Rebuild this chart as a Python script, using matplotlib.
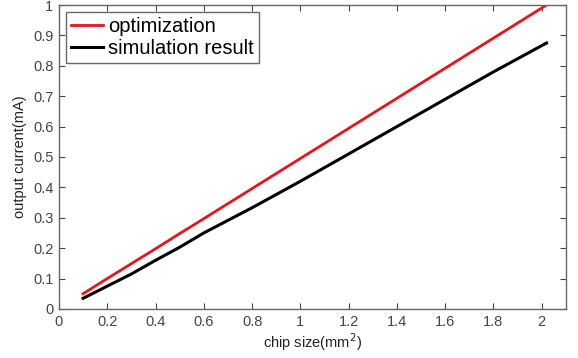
import matplotlib
matplotlib.use("Agg")
import matplotlib.pyplot as plt

plt.rcParams['font.family'] = ['Liberation Sans', 'DejaVu Sans']

chip_size = [0.1, 0.2, 0.3, 0.4, 0.5, 0.6, 0.8, 1.0, 1.2, 1.4, 1.6, 1.8, 2.02]
optimization = [0.05, 0.1, 0.149, 0.198, 0.248, 0.297, 0.396, 0.495, 0.594, 0.693, 0.792, 0.891, 1.0]
simulation = [0.035, 0.075, 0.115, 0.16, 0.203, 0.25, 0.333, 0.42, 0.51, 0.6, 0.69, 0.78, 0.875]

x_ticks = [0, 0.2, 0.4, 0.6, 0.8, 1, 1.2, 1.4, 1.6, 1.8, 2]
x_labels = ['0', '0.2', '0.4', '0.6', '0.8', '1', '1.2', '1.4', '1.6', '1.8', '2']
y_ticks = [0, 0.1, 0.2, 0.3, 0.4, 0.5, 0.6, 0.7, 0.8, 0.9, 1]
y_labels = ['0', '0.1', '0.2', '0.3', '0.4', '0.5', '0.6', '0.7', '0.8', '0.9', '1']

fig = plt.figure(figsize=(5.78, 3.58), dpi=100)
ax = fig.add_axes([0.102, 0.137, 0.877, 0.849])

ax.plot(chip_size, optimization, color='#e8141c', lw=2, label='optimization')
ax.plot(chip_size, simulation, color='black', lw=2.2, label='simulation result')

ax.set_xlim(0, 2.1)
ax.set_ylim(0, 1)
ax.set_xticks(x_ticks)
ax.set_xticklabels(x_labels)
ax.set_yticks(y_ticks)
ax.set_yticklabels(y_labels)
ax.tick_params(direction='in', top=True, right=True, labelsize=10.5, colors='#444444',
               length=4, pad=4)
for s in ax.spines.values():
    s.set_color('#666666')
    s.set_linewidth(1)

ax.set_xlabel('chip size(mm$^2$)', fontsize=10.5, color='#222222', labelpad=2)
ax.set_ylabel('output current(mA)', fontsize=10.5, color='#222222', labelpad=4)

leg = ax.legend(loc='upper left', fontsize=14.5, frameon=True, fancybox=False,
                edgecolor='#444444', borderpad=0.25, handlelength=1.6,
                handletextpad=0.25, labelspacing=0.15, borderaxespad=0.35)
leg.get_frame().set_linewidth(1)

fig.savefig('out.png', dpi=100)
